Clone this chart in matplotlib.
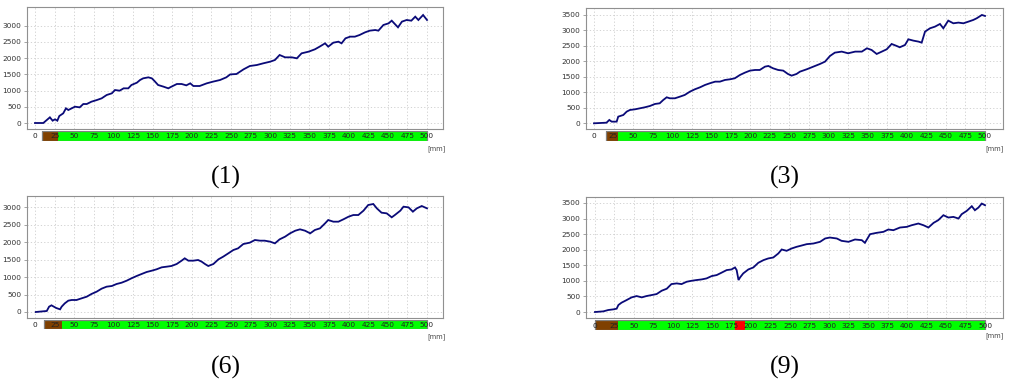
import matplotlib
matplotlib.use("Agg")
import matplotlib.pyplot as plt
from matplotlib.patches import Rectangle

# ---------------- data ----------------
x1 = [0, 10.6, 19, 22.5, 25.5, 28.5, 31, 36, 39.5, 42.5, 46.8, 51, 57, 61.6, 66, 72, 79, 85, 91.4, 98,
      102, 108, 113, 119, 123, 130, 134, 138, 144.6, 149, 152, 157, 164, 170, 174, 181, 187, 193, 198,
      202, 210, 219, 227, 236, 244, 249, 257, 266, 274, 283, 291, 300, 306, 312, 319, 327.5, 334, 340,
      349, 357, 363, 370, 374, 380.5, 387, 391, 396, 402, 408, 414, 421, 427, 434, 438, 444.4, 451,
      455, 459, 463, 468, 474, 480, 485, 489, 495, 500]
y1 = [0, 0, 175, 72, 113, 72, 216, 298, 453, 401, 453, 504, 483, 586, 586, 658, 710, 761, 864, 916,
      1018, 998, 1070, 1070, 1173, 1245, 1327, 1379, 1409, 1379, 1307, 1173, 1121, 1070, 1121, 1204,
      1204, 1162, 1224, 1142, 1142, 1224, 1276, 1327, 1409, 1500, 1512, 1656, 1759, 1790, 1841, 1893,
      1944, 2099, 2027, 2027, 1996, 2150, 2202, 2274, 2356, 2459, 2356, 2479, 2510, 2459, 2613, 2665,
      2665, 2716, 2798, 2850, 2870, 2850, 3025, 3076, 3158, 3055, 2953, 3128, 3179, 3158, 3282, 3179,
      3333, 3179]

x3 = [0, 16, 19.6, 22.6, 29, 31, 37.5, 41.8, 46, 52.4, 58.8, 65, 71.6, 78, 84, 88.6, 93, 97, 103.5,
      110, 116, 122.7, 129, 135.6, 142, 148, 155, 161, 167.5, 174, 180, 186.7, 193, 199.5, 206, 212,
      218.7, 223, 229, 235.5, 242, 248, 252.7, 259, 263.4, 272, 280.5, 289, 295.4, 301.8, 308, 316.8,
      325, 334, 342.5, 349, 355, 361.5, 368, 374.3, 380.6, 387, 391, 397.7, 402, 408.4, 415, 419,
      423.3, 429.7, 436, 442.4, 446.7, 453, 459.5, 466, 472.4, 478.8, 485, 489.4, 496, 500]
y3 = [0, 20, 108, 54, 54, 215, 269, 377, 431, 452, 485, 517, 560, 625, 646, 754, 840, 808, 808, 862,
      915, 1023, 1099, 1163, 1239, 1292, 1346, 1346, 1400, 1422, 1454, 1562, 1637, 1702, 1723, 1723,
      1831, 1852, 1777, 1723, 1702, 1594, 1540, 1594, 1669, 1745, 1831, 1917, 1992, 2176, 2283, 2316,
      2262, 2316, 2316, 2423, 2369, 2240, 2316, 2391, 2563, 2499, 2456, 2531, 2714, 2671, 2639, 2606,
      2962, 3070, 3123, 3209, 3070, 3317, 3231, 3253, 3231, 3285, 3339, 3393, 3500, 3468]

x6 = [1, 15, 18, 21, 24, 27, 32, 34, 38, 42.5, 46.8, 53, 59.5, 66, 72, 78.7, 85, 91.4, 98, 104, 110.5,
      117, 123, 129.7, 136, 142.4, 149, 155, 161.6, 168, 174, 180.7, 187, 191, 195.6, 202, 208, 212.6,
      216.8, 221, 227.5, 234, 240, 246.6, 253, 259, 265.7, 274, 280.5, 287, 293, 300, 306, 312, 319,
      325.3, 332, 338, 344.4, 351, 357, 363.5, 370, 374, 380.6, 387, 393.3, 400, 406, 412.4, 419, 425,
      431.5, 436, 442, 448.6, 455, 459, 466, 470, 476.4, 482, 487, 493.3, 500]
y6 = [0, 29, 153, 191, 153, 115, 76, 153, 248, 325, 344, 344, 392, 439, 516, 583, 669, 726, 745, 802,
      840, 898, 965, 1032, 1089, 1146, 1184, 1223, 1280, 1299, 1318, 1375, 1471, 1538, 1471, 1471, 1490,
      1442, 1375, 1318, 1375, 1509, 1585, 1681, 1776, 1824, 1948, 1987, 2063, 2044, 2044, 2015, 1967,
      2082, 2159, 2254, 2330, 2369, 2330, 2254, 2350, 2397, 2541, 2636, 2588, 2588, 2655, 2732, 2779,
      2779, 2904, 3066, 3095, 2970, 2846, 2827, 2713, 2779, 2904, 3018, 2999, 2875, 2970, 3037, 2970]

x9 = [0, 10.7, 17, 23.5, 27.8, 30, 34, 40.6, 47, 53.4, 60, 66, 72.6, 79, 85.5, 92, 98, 104.7, 111,
      117.5, 124, 130, 136.8, 143, 149.6, 156, 162, 168.8, 175, 179.5, 181.6, 184, 186, 190, 196.6, 203,
      209.4, 216, 222, 228.6, 235, 239.3, 245.7, 252, 258.5, 265, 271.4, 280, 288.5, 295, 301, 310, 316,
      325, 333.3, 342, 346, 352.6, 361, 369.7, 376, 382.5, 391, 399.6, 406, 414.5, 421, 427.4, 434, 440,
      446.6, 453, 459.4, 466, 470, 476.5, 483, 487, 491.5, 495.8, 500]
y9 = [0, 21, 64, 85, 107, 224, 299, 384, 470, 512, 470, 512, 544, 576, 683, 747, 896, 918, 896, 971,
      1003, 1025, 1046, 1078, 1153, 1185, 1259, 1345, 1366, 1430, 1345, 1025, 1110, 1238, 1366, 1430,
      1580, 1665, 1718, 1750, 1878, 2006, 1964, 2038, 2092, 2134, 2177, 2198, 2252, 2359, 2390, 2359,
      2284, 2252, 2327, 2305, 2220, 2497, 2540, 2572, 2647, 2625, 2711, 2732, 2785, 2839, 2785, 2711,
      2860, 2946, 3106, 3031, 3052, 2999, 3138, 3244, 3394, 3266, 3351, 3479, 3426]

panel_labels = ["(1)", "(3)", "(6)", "(9)"]
y_max_ticks = [3000, 3500, 3000, 3500]
# strip segments: (start, end, colour-name)
strips = [
    [(9, 29, "brown"), (29, 500, "green")],
    [(15, 31, "brown"), (31, 500, "green")],
    [(12, 34, "brown"), (34, 500, "green")],
    [(0, 30, "brown"), (30, 180, "green"), (180, 192, "red"), (192, 500, "green")],
]
x_ticks = list(range(0, 501, 25))

# ---------------- layout ----------------
W, H = 1011, 391
fig = plt.figure(figsize=(W / 100, H / 100), dpi=100)
fig.patch.set_facecolor("white")

def fr(l, t, r, b):
    return [l / W, 1 - b / H, (r - l) / W, (b - t) / H]

panels = [
    dict(x=x1, y=y1, ax=(27, 7, 443, 129), strip=(27, 131, 443, 141), xlim=(-10.2, 520.4),
         ylim=(-185, 3580), lab=(226, 177), mm=(437, 149)),
    dict(x=x3, y=y3, ax=(586, 8, 1003, 129), strip=(586, 131, 1003, 141), xlim=(-10.2, 523),
         ylim=(-184, 3725), lab=(785, 177), mm=(995, 149)),
    dict(x=x6, y=y6, ax=(27, 196, 443, 318), strip=(27, 320, 443, 329), xlim=(-10.2, 520.4),
         ylim=(-172, 3324), lab=(226, 367), mm=(437, 337)),
    dict(x=x9, y=y9, ax=(586, 197, 1003, 318), strip=(586, 320, 1003, 330), xlim=(-11.5, 523),
         ylim=(-192, 3690), lab=(785, 367), mm=(995, 336)),
]
colours = {"brown": "#7f4000", "green": "#00ff00", "red": "#ff0000"}

for i, p in enumerate(panels):
    l, t, r, b = p["ax"]
    ax = fig.add_axes(fr(l, t, r, b))
    ax.plot(p["x"], p["y"], color="#0a0a78", lw=1.3, solid_joinstyle="miter")
    ax.set_xlim(*p["xlim"])
    ax.set_ylim(*p["ylim"])
    ax.set_xticks(x_ticks)
    ax.set_xticklabels([])
    ax.tick_params(axis="x", length=0)
    ax.set_yticks(list(range(0, y_max_ticks[i] + 1, 500)))
    ax.tick_params(axis="y", labelsize=5.3, length=2, width=0.5, color="#808080",
                   labelcolor="#333333", pad=2)
    ax.grid(True, color="#cccccc", ls=(0, (1.5, 2.5)), lw=0.6)
    for s in ax.spines.values():
        s.set_color("#909090")
        s.set_linewidth(0.8)

    # position strip
    l2, t2, r2, b2 = p["strip"]
    sx = fig.add_axes(fr(l2, t2, r2, b2))
    sx.set_xlim(*p["xlim"])
    sx.set_ylim(0, 1)
    sx.axis("off")
    segs = strips[i]
    for (a, e, c) in segs:
        sx.add_patch(Rectangle((a, 0), e - a, 1, facecolor=colours[c], edgecolor="none"))
    sx.add_patch(Rectangle((segs[0][0], 0), 500 - segs[0][0], 1, facecolor="none",
                           edgecolor="#808080", lw=0.9))
    for xt in x_ticks:
        sx.text(xt, 0.45, str(xt), ha="center", va="center", fontsize=5.3, color="#222222")

    fig.text(p["mm"][0] / W, 1 - p["mm"][1] / H, "[mm]", ha="center", va="center",
             fontsize=4.8, color="#444444")
    fig.text(p["lab"][0] / W, 1 - p["lab"][1] / H, panel_labels[i], ha="center", va="center",
             fontsize=18.5, family="Liberation Serif", color="black")

fig.savefig("out.png", dpi=100, facecolor="white")
